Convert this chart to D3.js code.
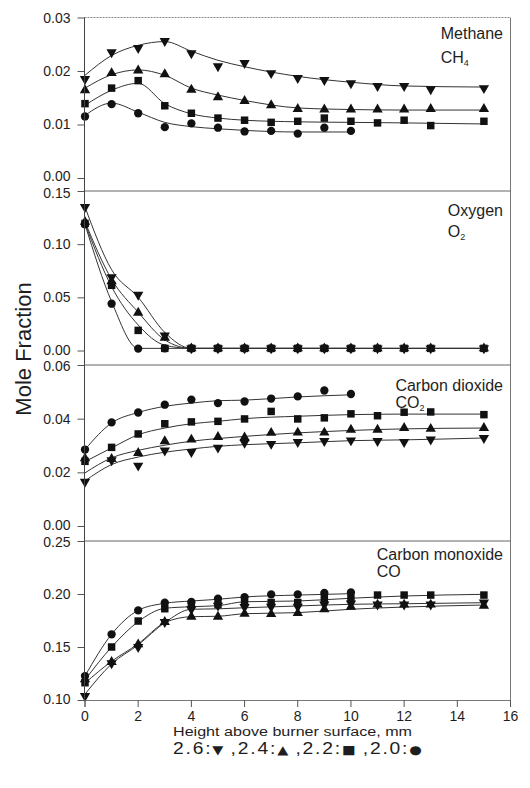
<!DOCTYPE html>
<html><head><meta charset="utf-8">
<script src="https://cdn.jsdelivr.net/npm/d3@7"></script>
<style>
body{margin:0;background:#fff;}
svg{display:block;}
text{font-family:"Liberation Sans", Arial, Helvetica, sans-serif;fill:#1e1e1e;}
</style>
</head><body>
<svg id="chart" width="530" height="788"></svg>
<script>
// ---------- data ----------
const xPts      = [0,1,2,3,4,5,6,7,8,9,10,11,12,13,15];
const xPts20    = [0,1,2,3,4,5,6,7,8,9,10];
const fitX      = [0,1,2,3,4,5,6,8,10,12,15];
const fitX20    = [0,1,2,3,4,5,6,8,10];
const xTicks    = [0,2,4,6,8,10,12,14,16];
const seriesLabels = ["2.6","2.4","2.2","2.0"];
const symbolGlyphs = ["\u25BC","\u25B2","\u25A0","\u25CF"];

// Methane CH4
const ch4Ticks = [0.00,0.01,0.02,0.03];
const ch4_26 = [0.0185,0.0235,0.0243,0.0256,0.0233,0.0209,0.0215,0.0196,0.0187,0.0183,0.0177,0.0172,0.0172,0.0166,0.0168];
const ch4_24 = [0.0164,0.0196,0.0201,0.0194,0.0165,0.0151,0.0144,0.0136,0.0129,0.0128,0.0128,0.0128,0.0128,0.0129,0.0129];
const ch4_22 = [0.0139,0.0168,0.0182,0.0135,0.0121,0.0112,0.0108,0.0104,0.0106,0.0112,0.0106,0.0103,0.0108,0.0098,0.0106];
const ch4_20 = [0.0115,0.0138,0.0121,0.0095,0.0102,0.0094,0.0087,0.0088,0.0083,0.0094,0.0088];
const ch4Fit26 = [0.0192,0.0229,0.0248,0.0255,0.0237,0.0220,0.0208,0.0190,0.0179,0.0172,0.0170];
const ch4Fit24 = [0.0168,0.0193,0.0202,0.0192,0.0168,0.0155,0.0145,0.0131,0.0128,0.0127,0.0127];
const ch4Fit22 = [0.0136,0.0164,0.0177,0.0139,0.0120,0.0112,0.0108,0.0105,0.0104,0.0103,0.0101];
const ch4Fit20 = [0.0117,0.0140,0.0123,0.0104,0.0096,0.0092,0.0089,0.0086,0.0086];

// Oxygen O2
const o2Ticks = [0.00,0.05,0.10,0.15];
const o2_26 = [0.135,0.069,0.0525,0.0142,0.002,0.002,0.002,0.002,0.002,0.002,0.002,0.002,0.002,0.002,0.002];
const o2_24 = [0.121,0.065,0.0355,0.012,0.002,0.002,0.002,0.002,0.002,0.002,0.002,0.002,0.002,0.002,0.002];
const o2_22 = [0.1195,0.0613,0.0189,0.002,0.002,0.002,0.002,0.002,0.002,0.002,0.002,0.002,0.002,0.002,0.002];
const o2_20 = [0.1186,0.044,0.0018,0.002,0.002,0.002,0.002,0.002,0.002,0.002,0.002];
const o2Fit26 = [0.135,0.076,0.050,0.017,0.002,0.002,0.002,0.002,0.002,0.002,0.002];
const o2Fit24 = [0.121,0.067,0.036,0.010,0.002,0.002,0.002,0.002,0.002,0.002,0.002];
const o2Fit22 = [0.1195,0.060,0.024,0.005,0.002,0.002,0.002,0.002,0.002,0.002,0.002];
const o2Fit20 = [0.1186,0.046,0.002,0.002,0.002,0.002,0.002,0.002,0.002];

// Carbon dioxide CO2
const co2Ticks = [0.00,0.02,0.04,0.06];
const co2_26 = [0.0165,0.0245,0.0225,0.0281,0.0276,0.0292,0.0310,0.0306,0.0313,0.0317,0.0319,0.0317,0.0313,0.0322,0.0328];
const co2_24 = [0.0252,0.0250,0.0272,0.0316,0.0322,0.0332,0.0330,0.0347,0.0348,0.0348,0.0359,0.0359,0.0365,0.0362,0.0365];
const co2_22 = [0.0241,0.0293,0.0343,0.0381,0.0388,0.0390,0.0399,0.0427,0.0399,0.0403,0.0418,0.0411,0.0424,0.0425,0.0415];
const co2_20 = [0.0285,0.0386,0.0423,0.0452,0.0471,0.0458,0.0464,0.0475,0.0483,0.0505,0.0492];
const co2Fit26 = [0.0168,0.0229,0.0257,0.0275,0.0287,0.0297,0.0303,0.0310,0.0318,0.0321,0.0328];
const co2Fit24 = [0.0198,0.0254,0.0282,0.0301,0.0316,0.0326,0.0334,0.0347,0.0356,0.0362,0.0365];
const co2Fit22 = [0.0240,0.0291,0.0340,0.0365,0.0381,0.0390,0.0400,0.0409,0.0415,0.0417,0.0417];
const co2Fit20 = [0.0285,0.0384,0.0423,0.0446,0.0458,0.0467,0.0469,0.0481,0.0489];

// Carbon monoxide CO
const coTicks = [0.10,0.15,0.20,0.25];
const co_26 = [0.1038,0.1346,0.1500,0.1736,0.1856,0.1890,0.1877,0.1880,0.1880,0.1900,0.1910,0.1900,0.1900,0.1900,0.1920];
const co_24 = [0.1195,0.1358,0.1525,0.1736,0.1786,0.1786,0.1814,0.1810,0.1820,0.1856,0.1880,0.1900,0.1900,0.1900,0.1890];
const co_22 = [0.1163,0.1500,0.1745,0.1861,0.1893,0.1900,0.1918,0.1920,0.1920,0.1960,0.1960,0.1990,0.1990,0.1990,0.1990];
const co_20 = [0.1226,0.1620,0.1846,0.1918,0.1925,0.1956,0.1970,0.1997,0.1997,0.2010,0.2015];
const coFit26 = [0.1055,0.1340,0.1520,0.1730,0.1856,0.1860,0.1870,0.1887,0.1903,0.1908,0.1918];
const coFit24 = [0.1160,0.1365,0.1530,0.1730,0.1786,0.1790,0.1814,0.1824,0.1856,0.1877,0.1896];
const coFit22 = [0.1190,0.1500,0.1739,0.1865,0.1880,0.1890,0.1927,0.1934,0.1960,0.1981,0.1997];
const coFit20 = [0.1226,0.1620,0.1846,0.1912,0.1934,0.1950,0.1972,0.1990,0.2003];

// ---------- layout ----------
const svg = d3.select("#chart");
const X0 = 84.5, X1 = 510.5, YTOP = 17.5, YBOT = 700;
const x = d3.scaleLinear().domain([0,16]).range([85, 510.5]);

const panels = [
  {title:"Methane", formula:["CH","4"], ticks:ch4Ticks, domain:[0,0.03], range:[178,17.5],
   marks:[ch4_26,ch4_24,ch4_22,ch4_20], fits:[ch4Fit26,ch4Fit24,ch4Fit22,ch4Fit20], ty:[39,63]},
  {title:"Oxygen", formula:["O","2"], ticks:o2Ticks, domain:[0,0.15], range:[350.5,191],
   marks:[o2_26,o2_24,o2_22,o2_20], fits:[o2Fit26,o2Fit24,o2Fit22,o2Fit20], ty:[216,237]},
  {title:"Carbon dioxide", formula:["CO","2"], ticks:co2Ticks, domain:[0,0.06], range:[526,365],
   marks:[co2_26,co2_24,co2_22,co2_20], fits:[co2Fit26,co2Fit24,co2Fit22,co2Fit20], ty:[391,408]},
  {title:"Carbon monoxide", formula:["CO",""], ticks:coTicks, domain:[0.10,0.25], range:[700,541],
   marks:[co_26,co_24,co_22,co_20], fits:[coFit26,coFit24,coFit22,coFit20], ty:[560,577]}
];

const symTypes = [d3.symbolTriangle, d3.symbolTriangle, d3.symbolSquare, d3.symbolCircle];
const symSizes = [46, 46, 56, 54];
const symRot = [180, 0, 0, 0];

svg.append("line").attr("x1",X0).attr("x2",X1).attr("y1",YTOP).attr("y2",YTOP)
  .attr("stroke","#888").attr("stroke-width",1).attr("stroke-dasharray","2,1");
svg.append("line").attr("x1",X1).attr("x2",X1).attr("y1",YTOP).attr("y2",YBOT)
  .attr("stroke","#777").attr("stroke-width",1);

panels.forEach((p, pi) => {
  const y = d3.scaleLinear().domain(p.domain).range(p.range);
  if (pi > 0) {
    svg.append("line").attr("x1",X0).attr("x2",X1).attr("y1",p.range[1]).attr("y2",p.range[1])
      .attr("stroke","#666").attr("stroke-width",1);
  }
  const ax = svg.append("g").attr("transform",`translate(${X0},0)`)
    .call(d3.axisLeft(y).tickValues(p.ticks).tickSize(7).tickPadding(7).tickFormat(d3.format(".2f")));
  ax.select(".domain").remove();
  ax.selectAll(".tick line").attr("stroke","#555");
  ax.selectAll(".tick text").attr("font-size",14).attr("fill","#1e1e1e")
    .attr("font-family",'"Liberation Sans", Arial, sans-serif')
    .attr("dy", (d,i) => i === 0 ? (pi === 0 ? "0.17em" : "0.26em") : (i === p.ticks.length-1 ? (pi === 1 ? "0.45em" : "0.38em") : "0.32em"));

  const g = svg.append("g");
  const line = d3.line().x(d=>x(d[0])).y(d=>y(d[1])).curve(d3.curveMonotoneX);
  p.fits.forEach((f, si) => {
    const xs = si === 3 ? fitX20 : fitX;
    g.append("path").datum(xs.map((xv,i)=>[xv,f[i]]))
      .attr("d", line).attr("fill","none").attr("stroke","#333").attr("stroke-width",1);
  });
  p.marks.forEach((m, si) => {
    const xs = si === 3 ? xPts20 : xPts;
    const sym = d3.symbol().type(symTypes[si]).size(symSizes[si]);
    g.selectAll(null).data(xs.map((xv,i)=>[xv,m[i]])).enter().append("path")
      .attr("d", sym)
      .attr("transform", d=>`translate(${x(d[0])},${y(d[1])}) rotate(${symRot[si]})`)
      .attr("fill","#111");
  });

  const t1 = svg.append("text").attr("x",503).attr("y",p.ty[0]).attr("text-anchor","end")
    .attr("font-size",16).text(p.title);
  const w = t1.node().getComputedTextLength();
  const t2 = svg.append("text").attr("x",503 - w).attr("y",p.ty[1]).attr("font-size",16);
  t2.append("tspan").text(p.formula[0]);
  if (p.formula[1]) t2.append("tspan").attr("font-size",9).attr("dy",3).text(p.formula[1]);
});

svg.append("line").attr("x1",X0).attr("x2",X0).attr("y1",YTOP).attr("y2",YBOT)
  .attr("stroke","#444").attr("stroke-width",1);

const xa = svg.append("g").attr("transform",`translate(0,${YBOT})`)
  .call(d3.axisBottom(d3.scaleLinear().domain([0,16]).range([X0,510])).tickValues(xTicks).tickSize(7).tickPadding(4));
xa.select(".domain").attr("stroke","#777");
xa.selectAll(".tick line").attr("stroke","#555");
xa.selectAll(".tick text").attr("font-size",14).attr("fill","#1e1e1e")
  .attr("font-family",'"Liberation Sans", Arial, sans-serif');

svg.append("text").attr("x",292.5).attr("y",736).attr("text-anchor","middle")
  .attr("font-size",12).attr("textLength",239).attr("lengthAdjust","spacingAndGlyphs")
  .text("Height above burner surface, mm");

svg.append("text").attr("transform","translate(31,349) rotate(-90)").attr("text-anchor","middle")
  .attr("font-size",22).text("Mole Fraction");

// legend line
const lg = svg.append("text").attr("font-size",16).attr("letter-spacing",1.5).attr("text-anchor","start");
seriesLabels.forEach((s,i) => {
  lg.append("tspan").text((i ? " ," : "") + s + ":");
  lg.append("tspan").attr("font-family","DejaVu Sans").attr("font-size",12).attr("letter-spacing",0).text(symbolGlyphs[i]);
});
const bb = lg.node().getBBox();
const sc = 249 / bb.width;
lg.attr("transform",`translate(${173 - bb.x*sc},753.5) scale(${sc},1)`);
</script>
</body></html>
